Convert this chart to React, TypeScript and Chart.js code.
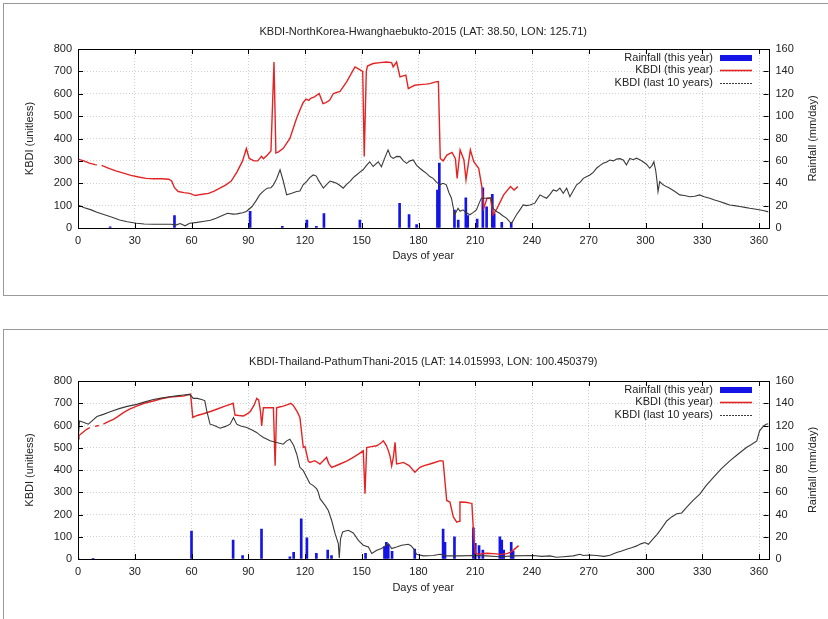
import React, { useEffect, useRef } from 'react';
import { Chart, registerables } from 'chart.js';

Chart.register(...registerables);

const FONT = '"Liberation Sans", Arial, sans-serif';
const TEXT = '#222';

// Axis ranges / ticks
const dayMin = 0;
const dayMax = 365;
const dayStep = 30;
const kbdiMax = 800;
const kbdiStep = 100;
const rainMax = 160;
const rainStep = 20;

const legendLabels = ['Rainfall (this year)', 'KBDI (this year)', 'KBDI (last 10 years)'];
const xTitle = 'Days of year';
const yTitle = 'KBDI (unitless)';
const y2Title = 'Rainfall (mm/day)';

// ---------- Top panel: North Korea ----------
const topTitle = 'KBDI-NorthKorea-Hwanghaebukto-2015 (LAT: 38.50, LON: 125.71)';

const topRain: [number, number][] = [
  [17, 1], [51, 11], [91, 15], [108, 1.5], [121, 7], [126, 1.5], [130, 13], [149, 7],
  [170, 22], [175, 12], [179, 3], [190, 34], [191, 58], [199, 16], [201, 7], [205, 27],
  [206, 11], [211, 8], [214, 36], [216, 19], [219, 30], [220, 13], [224, 5], [229, 5],
];

const topKbdiThisYear: [number, number | null][] = [
  [0, 308], [3, 300], [6, 290], [9, 283], [10, 282], [11, null], [12.5, 280], [16, 268], [20, 255],
  [24, 245], [28, 235], [32, 228], [36, 222], [40, 220], [44, 220], [48, 218], [49.5, 210], [51, 180],
  [53, 163], [56, 158], [59, 155], [62, 145], [65, 150], [69, 155], [72, 165], [75, 178], [78, 192],
  [81, 210], [84, 250], [87, 300], [89, 355], [90.5, 311], [93, 300], [95, 300], [97, 320], [98, 310],
  [100, 325], [102, 344], [103.6, 742], [104.6, 335], [106, 340], [108.5, 356], [112, 400], [115.5, 489],
  [117.3, 527], [119, 560], [120.5, 576], [122, 570], [123, 580], [125, 586], [127.5, 601], [129.5, 556],
  [131, 560], [133, 571], [135, 601], [138.5, 611], [142, 653], [146.4, 720], [148, 712], [150.5, 700],
  [151.3, 320], [152.4, 700], [153, 724], [156, 735], [159.6, 739], [163, 742], [165.8, 739], [166.6, 720],
  [168.4, 742], [170.2, 675], [172, 680], [173.3, 683], [174.6, 623], [176, 630], [178, 638], [180.7, 641],
  [184, 643], [186, 645], [189, 653], [190.5, 655], [191.5, 311], [193, 300], [195, 326], [197.7, 338],
  [199.5, 310], [200.4, 222], [202, 349], [204, 304], [205.1, 215], [207.4, 349], [209.2, 296], [211.8, 267],
  [213.6, 178], [214.5, 88], [216.2, 133], [218, 133], [219.4, 59], [221.5, 88], [225, 148], [228.6, 185],
  [230.5, 170], [232.5, 185],
];

const topKbdiLast10: [number, number][] = [
  [0, 103], [3, 92], [7, 81], [10, 70], [14, 59], [18, 48], [22, 36], [26, 28], [31, 21], [35, 18],
  [40, 17], [45, 17], [49, 17], [52, 14], [54, 20], [56.6, 10], [59, 21], [63, 25], [66, 29], [70, 35],
  [73, 44], [76, 55], [79, 66], [82, 62], [84, 63], [87, 68], [89, 74], [92, 96], [94, 120], [96, 148],
  [98, 165], [100, 178], [102, 180], [103.3, 193], [105, 220], [106.8, 260], [108.5, 210], [110.3, 148],
  [113, 155], [115.6, 163], [117.3, 165], [119, 193], [120.8, 207], [122.5, 225], [124.3, 237], [126, 232],
  [127, 215], [129.7, 178], [131, 190], [133.2, 210], [135, 205], [136.7, 200], [138.5, 190], [140.2, 178],
  [142, 195], [143.7, 207], [145.5, 225], [147.2, 237], [149, 250], [150.7, 260], [152.5, 280], [154.2, 296],
  [156, 275], [158.7, 296], [160.4, 274], [162, 310], [163.9, 349], [165.2, 320], [166.6, 311], [168.5, 320],
  [170.2, 319], [172, 300], [173.7, 289], [175.5, 300], [177.2, 304], [179, 280], [180.7, 267], [182.5, 255],
  [184.2, 244], [186, 230], [187.7, 222], [189.5, 205], [191.2, 193], [193, 200], [194.7, 193], [196, 160],
  [197.4, 133], [199.1, 59], [200.9, 88], [202, 75], [203.5, 81], [205, 70], [207.1, 59], [209, 70],
  [210.6, 81], [212, 110], [213.2, 133], [215.9, 133], [218.5, 135], [219.4, 88], [221, 75], [222.9, 66],
  [224.5, 55], [226.5, 44], [228, 30], [229.1, 21], [230.5, 40], [231.8, 59], [233.5, 80], [235.3, 103],
  [237, 100], [238.9, 103], [241.5, 111], [244.2, 148], [246, 140], [247.7, 133], [249.5, 150], [251.2, 170],
  [253, 165], [254.7, 178], [256.5, 155], [258.3, 178], [260, 140], [262, 170], [263.6, 193], [265.5, 205],
  [267.1, 222], [269, 230], [270.6, 237], [272.5, 250], [274.1, 267], [276, 280], [277.6, 289], [279.5, 295],
  [281.1, 304], [283, 300], [284.7, 308], [286.5, 310], [288.2, 304], [289.9, 282], [291.7, 311], [293.5, 305],
  [295.2, 312], [297, 305], [298.7, 296], [300.5, 285], [302.2, 267], [303.5, 280], [304.4, 296], [305.4, 256],
  [306.1, 207], [306.6, 163], [307.5, 207], [309.3, 193], [311, 185], [312.8, 178], [315.5, 163], [318.1, 148],
  [320.5, 145], [323.4, 140], [326, 142], [328.6, 148], [331, 140], [333.9, 133], [336.5, 125], [339.2, 118],
  [342, 110], [344.5, 103], [347, 100], [349.8, 96], [352.5, 92], [355.1, 88], [358.5, 84], [362.2, 78],
  [365, 72],
];

// ---------- Bottom panel: Thailand ----------
const botTitle = 'KBDI-Thailand-PathumThani-2015 (LAT: 14.015993, LON: 100.450379)';

const botRain: [number, number][] = [
  [0, 1], [8, 0.5], [60, 25], [82, 17], [87, 3], [97, 27], [112, 2], [114, 6], [118, 36], [121, 19],
  [126, 5], [132, 8], [134, 3], [152, 5], [162, 11], [163, 15], [164, 13], [166, 7], [178, 9], [193, 27],
  [194, 15], [199, 20], [209, 28], [210, 14], [212, 12], [214, 8], [223, 20], [224, 17], [225, 8],
  [229, 15], [230, 7],
];

const botKbdiThisYear: [number, number | null][] = [
  [0, 540], [0.5, 555], [2, 565], [4.6, 583], [6.3, 591], [7.5, null], [9, 596], [11, 600], [12, null],
  [13.4, 606], [16, 617], [18.7, 628], [21, 640], [24, 658], [27, 672], [31, 687], [35, 700], [39.8, 710],
  [44, 720], [48.6, 728], [52, 730], [55.7, 732], [58, 738], [59.5, 740], [60.7, 636], [63, 645], [66.3, 653],
  [70, 663], [73.3, 673], [77, 685], [80.4, 695], [82, 700], [83, 647], [85, 645], [87.5, 643], [89, 650],
  [91, 662], [93, 690], [94.5, 722], [95.5, 715], [96.5, 660], [97.1, 598], [98, 680], [100, 680],
  [103.3, 680], [104.2, 419], [105, 680], [106.5, 683], [108.5, 687], [111.2, 695], [112.5, 700], [113.8, 690],
  [116, 660], [117.3, 636], [119.1, 501], [120, 505], [121.7, 440], [122.6, 434], [125.2, 442], [127.9, 427],
  [129.5, 440], [131.4, 457], [132.5, 430], [134.1, 412], [136, 418], [138.5, 427], [142, 440], [145.5, 457],
  [148, 470], [150.8, 486], [151.7, 293], [152.6, 501], [155, 505], [157.9, 509], [160, 520], [161.4, 531],
  [163, 510], [164.1, 486], [165, 460], [165.8, 419], [166.7, 457], [167.6, 524], [168.4, 427], [170, 430],
  [172, 434], [175, 420], [178.1, 390], [180.7, 412], [183, 420], [186, 427], [189, 435], [191.4, 442],
  [193, 440], [194.9, 263], [196.6, 256], [198.4, 189], [200.2, 166], [201.6, 170], [201.9, 256], [205, 255],
  [207.3, 251], [208.2, 250], [209.1, 114], [210, 26], [212.6, 21], [214, 25], [216.2, 26], [219.7, 24],
  [223.2, 21], [226.7, 24], [228.5, 30], [230.3, 41], [232.9, 60],
];

const botKbdiLast10: [number, number][] = [
  [0, 531], [0.8, 620], [2.8, 615], [5.5, 606], [8, 625], [10, 640], [13.4, 650], [17, 662], [22.2, 677],
  [26, 686], [31, 695], [35, 705], [39.8, 717], [44, 723], [48.6, 729], [52, 733], [55.7, 737], [59.2, 740],
  [60.9, 722], [63, 722], [65.3, 717], [67, 712], [68.1, 665], [69.8, 606], [72, 600], [75.1, 588], [78, 596],
  [80.4, 606], [82.2, 636], [83.9, 606], [86, 598], [89.2, 591], [92, 580], [94.4, 569], [96, 558], [98, 546],
  [100, 538], [101.5, 531], [103, 528], [105, 524], [108.5, 516], [110.3, 531], [112, 538], [114, 510],
  [115.6, 472], [117.3, 412], [119.1, 397], [120.9, 367], [122.5, 340], [124.4, 330], [126.2, 315], [127, 300],
  [128, 270], [130.6, 241], [132.3, 218], [134.1, 173], [135.9, 114], [137.6, 69], [138.1, 5], [138.8, 92],
  [139.9, 122], [141, 125], [142.9, 129], [145.5, 117], [148.2, 84], [150.8, 62], [153.5, 54], [155.3, 25],
  [157.9, 39], [160.5, 47], [162.5, 60], [164.1, 69], [165.8, 47], [168.4, 54], [171.1, 62], [174.6, 66],
  [176, 60], [177.3, 47], [179, 21], [182.6, 14], [187.8, 16], [191.4, 21], [194.9, 14], [201.9, 14],
  [209, 16], [216, 14], [223, 10], [230, 14], [240.7, 16], [245, 12], [249.5, 14], [253, 8], [256.5, 10],
  [261.8, 14], [265.3, 21], [267.1, 16], [270, 18], [274.1, 16], [278, 12], [281.2, 17], [284.7, 29],
  [287, 35], [290, 44], [293, 52], [295.3, 59], [297.5, 68], [299.7, 74], [301.5, 66], [304.1, 92], [306, 110],
  [307.7, 129], [309.5, 150], [311.2, 171], [313.8, 189], [316.5, 203], [319.1, 207], [321.8, 233], [325, 262],
  [328.8, 293], [332, 330], [335.9, 367], [340, 405], [344.7, 442], [349, 472], [353.5, 502], [356, 515],
  [358.8, 531], [360.3, 576], [362.4, 598], [363.8, 606], [365, 608],
];

type PanelProps = {
  title: string;
  rain: [number, number][];
  red: [number, number | null][];
  black: [number, number][];
  top: number;
  height: number;
  titleY: number;
  plotTop: number;
  plotBottom: number;
  xTitleY: number;
  borderY: number;
  borderH: number;
};

const W = 828;
const PLOT_LEFT = 78;
const PLOT_RIGHT = 768.5;
const FS = 11;
const LH = FS * 1.2;

function Panel(p: PanelProps) {
  const ref = useRef<HTMLCanvasElement>(null);
  useEffect(() => {
    const canvas = ref.current!;
    const H = p.height;
    const toPts = (arr: [number, number | null][]) => arr.map(([x, y]) => ({ x, y }));
    const font = { family: FONT, size: FS };

    const overlay = {
      id: 'overlay',
      beforeDraw(chart: any) {
        const ctx = chart.ctx;
        ctx.save();
        ctx.strokeStyle = '#9a9a9a';
        ctx.lineWidth = 1;
        ctx.strokeRect(3.5, p.borderY + 0.5, W + 20, p.borderH);
        ctx.restore();
      },
      afterDraw(chart: any) {
        const ctx = chart.ctx;
        const a = chart.chartArea;
        const sx = chart.scales.x;
        const sy = chart.scales.y;
        const sy2 = chart.scales.y2;
        ctx.save();
        // tick marks (inward)
        ctx.strokeStyle = '#000';
        ctx.lineWidth = 1;
        ctx.beginPath();
        sx.ticks.forEach((t: any) => {
          const px = Math.round(sx.getPixelForValue(t.value)) + 0.5;
          ctx.moveTo(px, a.bottom); ctx.lineTo(px, a.bottom - 5);
          ctx.moveTo(px, a.top); ctx.lineTo(px, a.top + 5);
        });
        sy.ticks.forEach((t: any) => {
          const py = Math.round(sy.getPixelForValue(t.value)) + 0.5;
          ctx.moveTo(a.left, py); ctx.lineTo(a.left + 5, py);
        });
        sy2.ticks.forEach((t: any) => {
          const py = Math.round(sy2.getPixelForValue(t.value)) + 0.5;
          ctx.moveTo(a.right, py); ctx.lineTo(a.right - 5, py);
        });
        ctx.stroke();
        // frame
        ctx.strokeRect(Math.round(a.left) + 0.5, Math.round(a.top) + 0.5,
          Math.round(a.right) - Math.round(a.left), Math.round(a.bottom) - Math.round(a.top));

        // legend
        const ds = chart.data.datasets;
        ctx.font = `${FS}px ${FONT}`;
        ctx.textAlign = 'right';
        ctx.textBaseline = 'middle';
        const textRight = 713;
        const sL = 720;
        const sR = 752;
        ds.forEach((d: any, i: number) => {
          const y = a.top + 9 + i * 12.3;
          ctx.fillStyle = TEXT;
          ctx.fillText(d.label, textRight, y);
          if (i === 0) {
            ctx.fillStyle = d.backgroundColor;
            ctx.fillRect(sL, y - 3, sR - sL, 6);
          } else {
            ctx.strokeStyle = d.borderColor;
            ctx.lineWidth = i === 1 ? 1.6 : 1.2;
            ctx.setLineDash(i === 2 ? [2, 1] : []);
            ctx.beginPath();
            ctx.moveTo(sL, Math.round(y) + 0.5);
            ctx.lineTo(sR, Math.round(y) + 0.5);
            ctx.stroke();
            ctx.setLineDash([]);
          }
        });

        // right axis title, reading bottom to top
        ctx.fillStyle = TEXT;
        ctx.textAlign = 'center';
        ctx.translate(813, (a.top + a.bottom) / 2);
        ctx.rotate(-Math.PI / 2);
        ctx.fillText(y2Title, 0, 0);
        ctx.restore();
      },
    };

    const gridCommon = { color: '#cfcfcf', drawTicks: false, lineWidth: 1, offset: false };

    const chart = new Chart(canvas, {
      type: 'line',
      data: {
        datasets: [
          {
            type: 'bar',
            label: legendLabels[0],
            data: toPts(p.rain),
            xAxisID: 'x',
            yAxisID: 'y2',
            backgroundColor: '#1414e6',
            borderWidth: 0,
            barThickness: 2,
            grouped: false,
            order: 3,
          } as any,
          {
            type: 'line',
            label: legendLabels[1],
            data: toPts(p.red),
            xAxisID: 'x',
            yAxisID: 'y',
            borderColor: '#e42424',
            borderWidth: 1.4,
            pointRadius: 0,
            spanGaps: false,
            tension: 0,
            order: 2,
          },
          {
            type: 'line',
            label: legendLabels[2],
            data: toPts(p.black),
            xAxisID: 'x',
            yAxisID: 'y',
            borderColor: '#3a3a3a',
            borderWidth: 1.1,
            pointRadius: 0,
            tension: 0,
            order: 1,
          },
        ],
      },
      options: {
        responsive: false,
        animation: false,
        devicePixelRatio: 1,
        layout: { padding: 0 },
        plugins: {
          legend: { display: false },
          tooltip: { enabled: false },
          title: {
            display: true,
            text: p.title,
            color: TEXT,
            font: { family: FONT, size: FS, weight: 'normal' },
            fullSize: false,
            padding: { top: p.titleY - LH / 2, bottom: p.plotTop - (p.titleY - LH / 2) - LH },
          },
        },
        scales: {
          x: {
            type: 'linear',
            min: dayMin,
            max: dayMax,
            offset: false,
            afterFit: (s: any) => { s.height = H - p.plotBottom; },
            ticks: { stepSize: dayStep, includeBounds: false, padding: 6, font, color: TEXT, maxRotation: 0, autoSkip: false },
            grid: gridCommon,
            border: { display: false, dash: [1, 2] },
            title: { display: true, text: xTitle, color: TEXT, font, padding: { top: 0, bottom: H - p.xTitleY - LH / 2 } },
          },
          y: {
            type: 'linear',
            position: 'left',
            min: 0,
            max: kbdiMax,
            afterFit: (s: any) => { s.width = PLOT_LEFT; },
            ticks: { stepSize: kbdiStep, padding: 6, font, color: TEXT },
            grid: gridCommon,
            border: { display: false, dash: [1, 2] },
            title: { display: true, text: yTitle, color: TEXT, font, padding: { top: 30 - LH / 2, bottom: 0 } },
          },
          y2: {
            type: 'linear',
            position: 'right',
            min: 0,
            max: rainMax,
            afterFit: (s: any) => { s.width = W - PLOT_RIGHT; },
            ticks: { stepSize: rainStep, padding: 7, font, color: TEXT },
            grid: { drawOnChartArea: false, drawTicks: false },
            border: { display: false },
          },
        },
      } as any,
      plugins: [overlay],
    });
    return () => chart.destroy();
  }, []);
  return (
    <canvas
      ref={ref}
      width={W}
      height={p.height}
      style={{ position: 'absolute', left: 0, top: p.top, width: W, height: p.height, display: 'block' }}
    />
  );
}

export default function App() {
  return (
    <div style={{ position: 'absolute', left: 0, top: 0, width: 828, height: 619, overflow: 'hidden', background: '#fff' }}>
      <Panel
        title={topTitle}
        rain={topRain}
        red={topKbdiThisYear}
        black={topKbdiLast10}
        top={0}
        height={310}
        titleY={32}
        plotTop={49}
        plotBottom={228}
        xTitleY={256}
        borderY={3}
        borderH={292}
      />
      <Panel
        title={botTitle}
        rain={botRain}
        red={botKbdiThisYear}
        black={botKbdiLast10}
        top={310}
        height={309}
        titleY={52}
        plotTop={71}
        plotBottom={249}
        xTitleY={278}
        borderY={19}
        borderH={400}
      />
    </div>
  );
}
